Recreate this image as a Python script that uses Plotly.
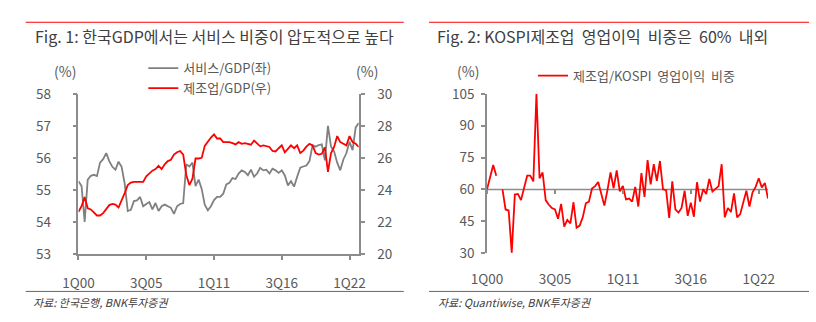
import plotly.graph_objects as go

# ---------------- data ----------------
# Quarterly, 1Q00 .. 4Q22 (92 quarters)
services_share = [
    55.27, 55.12, 54.00, 55.32, 55.44, 55.47, 55.43, 55.85, 55.96, 56.15,
    55.90, 55.72, 55.63, 55.88, 55.72, 55.20, 54.34, 54.38, 54.65, 54.67,
    54.78, 54.49, 54.56, 54.62, 54.39, 54.59, 54.34, 54.49, 54.54, 54.49,
    54.44, 54.25, 54.49, 54.56, 54.59, 55.80, 55.73, 55.85, 55.12, 55.32,
    55.03, 54.54, 54.36, 54.49, 54.68, 54.78, 54.78, 54.88, 55.17, 55.22,
    55.37, 55.34, 55.51, 55.61, 55.56, 55.46, 55.63, 55.41, 55.51, 55.69,
    55.61, 55.63, 55.51, 55.66, 55.61, 55.53, 55.61, 55.45, 55.14, 55.27,
    55.10, 55.41, 55.69, 55.73, 55.76, 55.90, 56.39, 56.35, 56.40, 56.42,
    55.92, 57.00, 56.35, 56.20, 55.85, 55.61, 55.95, 56.15, 56.50, 56.24,
    56.95, 57.09,
]
manufacturing_share = [
    22.63, 22.98, 23.55, 22.85, 22.78, 22.60, 22.40, 22.40, 22.55, 22.80,
    23.05, 23.12, 23.08, 22.90, 23.30, 23.80, 24.30, 24.45, 24.50, 24.50,
    24.50, 24.50, 24.85, 25.05, 25.20, 25.30, 25.50, 25.30, 25.60, 25.80,
    25.88, 26.20, 26.35, 26.43, 26.20, 24.93, 24.30, 24.70, 25.96, 25.96,
    26.00, 26.75, 27.02, 27.27, 27.46, 27.21, 27.21, 26.98, 26.98, 26.98,
    26.92, 26.84, 26.98, 26.88, 26.92, 26.88, 26.82, 27.08, 26.92, 26.72,
    26.78, 26.72, 26.68, 26.43, 26.40, 26.60, 26.78, 26.35, 26.60, 26.78,
    26.60, 26.78, 26.30, 26.45, 26.70, 26.88, 26.78, 26.30, 26.20, 26.25,
    26.65, 25.12, 26.30, 26.68, 27.36, 26.98, 26.88, 26.78, 27.36, 26.98,
    26.88, 26.68,
]
kospi_mfg_share = [
    60.1, 65.8, 71.5, 66.5, None, 60.1, 50.6, 50.1, 30.3, 57.6,
    57.9, 55.0, 60.9, 66.5, 66.5, 63.8, 105.0, 65.3, 68.0, 55.0,
    52.8, 51.3, 50.6, 46.2, 53.2, 42.5, 45.7, 44.0, 54.0, 42.0,
    43.0, 46.9, 53.5, 54.3, 60.4, 61.6, 63.5, 57.9, 52.4, 59.7,
    68.0, 60.6, 69.0, 59.1, 61.6, 55.3, 55.7, 54.3, 61.2, 52.0,
    67.7, 56.5, 73.8, 62.4, 71.9, 64.1, 73.4, 60.1, 59.7, 46.6,
    63.8, 50.6, 49.1, 51.3, 59.4, 47.6, 53.8, 47.2, 63.4, 54.3,
    60.1, 57.9, 65.0, 59.0, 60.4, 61.6, 71.9, 46.9, 51.3, 49.4,
    58.2, 46.9, 48.4, 54.3, 59.4, 52.0, 58.7, 61.2, 65.3, 60.9,
    63.1, 55.7,
]
tick_labels = ["1Q00", "3Q05", "1Q11", "3Q16", "1Q22"]
tick_quarters = [0, 22, 44, 66, 88]
quarter_idx = list(range(len(services_share)))

left1_range = [53, 58]
right1_range = [20, 30]
kospi_range = [30, 105]
kospi_ref = 60

# ---------------- layout helpers ----------------
W, H = 816, 322
def fx(px):
    return px / W
def fy(py):
    return 1 - py / H

FONT = "Noto Sans CJK KR, Noto Sans, sans-serif"
TXT = "#595959"
TITLE = "#404040"
AXIS = "#8c8c8c"
RED = "#ff0000"
GREY_LINE = "#808080"

x1_dom = [fx(64.3), fx(352.7)]
y1_dom = [fy(259), fy(88.3)]
x2_dom = [fx(484.7), fx(773.8)]
y3_dom = [fy(258.3), fy(88.3)]
pos_ref = y3_dom[0] + (kospi_ref - kospi_range[0]) / (kospi_range[1] - kospi_range[0]) * (y3_dom[1] - y3_dom[0])

xr = [quarter_idx[0], quarter_idx[-1]]

fig = go.Figure()
fig.add_trace(go.Scatter(x=quarter_idx, y=services_share, name="서비스/GDP(좌)", mode="lines",
                         line=dict(color=GREY_LINE, width=1.8), xaxis="x", yaxis="y", legend="legend"))
fig.add_trace(go.Scatter(x=quarter_idx, y=manufacturing_share, name="제조업/GDP(우)", mode="lines",
                         line=dict(color=RED, width=1.8), xaxis="x", yaxis="y2", legend="legend"))
# 60% reference (Excel axis crossing) on the main chart-2 subplot
fig.add_trace(go.Scatter(x=xr, y=[kospi_ref, kospi_ref], mode="lines", showlegend=False,
                         line=dict(color=AXIS, width=1.5), hoverinfo="skip", xaxis="x2", yaxis="y3"))
# KOSPI series on the overlay axis so that it is drawn above the reference line
fig.add_trace(go.Scatter(x=quarter_idx, y=kospi_mfg_share, name="제조업/KOSPI  영업이익  비중", mode="lines",
                         line=dict(color=RED, width=1.8), xaxis="x3", yaxis="y3", legend="legend2",
                         connectgaps=False))

tickfont = dict(family=FONT, size=13.5, color=TXT)
common = dict(showgrid=False, zeroline=False, tickfont=tickfont, fixedrange=True)

fig.update_layout(
    width=W, height=H, autosize=False,
    margin=dict(l=0, r=0, t=0, b=0),
    paper_bgcolor="white", plot_bgcolor="rgba(0,0,0,0)",
    font=dict(family=FONT, color=TXT),
    xaxis=dict(domain=x1_dom, anchor="y", range=xr, tickmode="array", tickvals=tick_quarters,
               ticktext=tick_labels, ticks="outside", ticklen=4, tickwidth=1.5, tickcolor=AXIS,
               showline=True, linecolor=AXIS, linewidth=1.5, ticklabelstandoff=12, **common),
    yaxis=dict(domain=y1_dom, anchor="x", range=left1_range, dtick=1, tick0=53, ticks="outside",
               ticklen=4, tickwidth=1.5, tickcolor=AXIS, showline=True, linecolor=AXIS, linewidth=1.5,
               ticklabelstandoff=19, **common),
    yaxis2=dict(overlaying="y", side="right", anchor="x", range=right1_range, dtick=2, tick0=20,
                ticks="outside", ticklen=4, tickwidth=1.5, tickcolor=AXIS, showline=True,
                linecolor=AXIS, linewidth=1.5, ticklabelstandoff=10, **common),
    xaxis2=dict(domain=x2_dom, anchor="y3", range=xr, tickmode="array", tickvals=tick_quarters,
                ticktext=tick_labels, ticks="", showline=False, ticklabelstandoff=16, **common),
    xaxis3=dict(domain=x2_dom, overlaying="x2", anchor="free", position=pos_ref, range=xr,
                tickmode="array", tickvals=tick_quarters, ticks="outside", ticklen=4, tickwidth=1.5,
                tickcolor=AXIS, showticklabels=False, showline=False, **common),
    yaxis3=dict(domain=y3_dom, anchor="x2", range=kospi_range, dtick=15, tick0=30, ticks="outside",
                ticklen=4, tickwidth=1.5, tickcolor=AXIS, showline=True, linecolor=AXIS, linewidth=1.5,
                ticklabelstandoff=4, **common),
    legend=dict(x=fx(131), y=fy(45), xanchor="left", yanchor="top", bgcolor="rgba(0,0,0,0)",
                font=dict(family=FONT, size=13, color=TXT), borderwidth=0, itemwidth=30,
                tracegroupgap=0),
    legend2=dict(x=fx(532), y=fy(53), xanchor="left", yanchor="top", bgcolor="rgba(0,0,0,0)",
                 font=dict(family=FONT, size=13, color=TXT), borderwidth=0, itemwidth=30),
    showlegend=True,
)

annotations = [
    dict(text="Fig. 1: 한국GDP에서는 서비스 비중이 압도적으로 높다", x=fx(17), y=fy(26.7),
         xanchor="left", yanchor="middle", font=dict(family=FONT, size=16, color=TITLE)),
    dict(text="Fig. 2: KOSPI제조업  영업이익  비중은  60%  내외", x=fx(431), y=fy(26.7),
         xanchor="left", yanchor="middle", font=dict(family=FONT, size=16, color=TITLE)),
    dict(text="(%)", x=fx(50), y=fy(64), xanchor="center", yanchor="middle",
         font=dict(family=FONT, size=14, color=TXT)),
    dict(text="(%)", x=fx(361), y=fy(64), xanchor="center", yanchor="middle",
         font=dict(family=FONT, size=14, color=TXT)),
    dict(text="(%)", x=fx(465), y=fy(64), xanchor="center", yanchor="middle",
         font=dict(family=FONT, size=14, color=TXT)),
    dict(text="<i>자료: 한국은행, BNK투자증권</i>", x=fx(15), y=fy(310), xanchor="left", yanchor="middle",
         font=dict(family=FONT, size=11, color=TITLE)),
    dict(text="<i>자료: Quantiwise, BNK투자증권</i>", x=fx(432), y=fy(310), xanchor="left", yanchor="middle",
         font=dict(family=FONT, size=11, color=TITLE)),
]
for a in annotations:
    a.update(xref="paper", yref="paper", showarrow=False)
fig.update_layout(annotations=annotations)

shapes = []
for (a, b) in [(10, 399), (425, 816)]:
    shapes.append(dict(type="line", xref="paper", yref="paper", x0=fx(a), x1=fx(b), y0=fy(12), y1=fy(12),
                       line=dict(color=RED, width=1)))
    shapes.append(dict(type="line", xref="paper", yref="paper", x0=fx(a), x1=fx(b), y0=fy(299), y1=fy(299),
                       line=dict(color="#666666", width=1)))
fig.update_layout(shapes=shapes)

fig.write_html("out.html")
